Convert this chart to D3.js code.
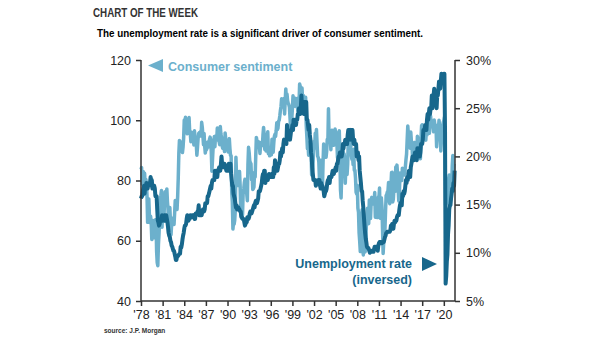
<html>
<head>
<script src="https://d3js.org/d3.v7.min.js"></script>
<style>
  body { margin: 0; background: #fff; }
  text { font-family: "Liberation Sans", Arial, sans-serif; }
</style>
</head>
<body>
<svg id="svg" width="605" height="341"></svg>
<script>
// monthly values, Jan 1978 onwards
var startYear = 1978;

// consumer sentiment index (left axis)
var sentiment = [
  83.7, 84.3, 78.8, 81.6, 82.9, 80.0, 82.4, 78.4, 80.4, 79.3, 75.0, 66.1,   // 1978
  72.1, 73.9, 68.4, 66.0, 68.1, 65.8, 60.4, 64.5, 66.7, 62.1, 63.3, 61.0,   // 1979
  67.0, 66.9, 56.5, 52.7, 51.7, 58.7, 62.3, 67.3, 73.7, 75.0, 76.7, 64.5,   // 1980
  71.4, 66.9, 66.5, 72.4, 76.3, 73.1, 74.1, 77.2, 73.1, 70.3, 62.5, 64.3,   // 1981
  71.0, 66.5, 62.0, 65.5, 67.5, 65.7, 65.4, 65.4, 69.3, 73.4, 72.1, 71.9,   // 1982
  70.4, 74.6, 80.8, 89.1, 93.3, 92.2, 92.8, 90.9, 89.9, 89.3, 91.1, 94.2,   // 1983
  100.1, 97.4, 101.0, 96.1, 98.1, 95.5, 96.6, 99.1, 100.9, 96.3, 95.7, 92.9, // 1984
  96.0, 93.7, 93.7, 94.6, 91.8, 96.5, 94.0, 92.4, 92.1, 88.4, 90.9, 93.9,   // 1985
  95.6, 95.9, 95.1, 96.2, 94.8, 99.3, 97.7, 94.9, 91.9, 95.6, 91.4, 89.1,   // 1986
  90.4, 90.2, 90.8, 92.8, 91.1, 91.5, 93.7, 94.4, 93.6, 89.3, 83.1, 86.8,   // 1987
  90.8, 91.6, 94.6, 91.2, 94.8, 94.7, 93.4, 97.4, 97.3, 94.1, 93.0, 91.9,   // 1988
  97.9, 95.4, 94.3, 91.5, 90.7, 90.6, 92.0, 89.6, 95.8, 93.9, 90.9, 90.5,   // 1989
  93.0, 89.5, 91.3, 93.9, 90.6, 88.3, 88.2, 76.4, 72.8, 63.9, 66.0, 65.5,   // 1990
  66.8, 70.4, 87.7, 81.8, 78.3, 82.1, 82.9, 82.0, 83.0, 78.3, 69.1, 68.2,   // 1991
  67.5, 68.8, 76.0, 77.2, 79.2, 80.4, 76.6, 76.1, 75.6, 73.3, 85.3, 91.0,   // 1992
  89.3, 86.6, 85.9, 85.6, 80.3, 81.5, 77.0, 77.3, 77.9, 82.7, 81.2, 88.2,   // 1993
  94.3, 93.2, 91.5, 92.6, 92.8, 91.2, 89.0, 91.7, 91.5, 92.7, 91.6, 95.1,   // 1994
  97.6, 95.1, 90.3, 92.5, 89.8, 92.7, 94.4, 96.2, 88.9, 90.2, 88.2, 91.0,   // 1995
  89.3, 88.5, 93.7, 92.7, 89.4, 92.4, 94.7, 95.3, 94.7, 96.5, 99.2, 96.9,   // 1996
  97.4, 99.7, 100.0, 101.4, 103.2, 104.5, 107.1, 104.4, 106.0, 105.6, 107.2, 102.1, // 1997
  106.6, 110.4, 106.5, 108.7, 106.5, 105.6, 105.2, 104.4, 100.9, 97.4, 102.7, 100.5, // 1998
  103.9, 108.1, 105.7, 104.6, 106.8, 107.3, 106.0, 104.5, 107.2, 103.2, 107.2, 105.4, // 1999
  112.0, 111.3, 107.1, 109.2, 110.7, 106.4, 108.3, 107.3, 106.8, 105.8, 107.6, 98.4,  // 2000
  94.7, 90.6, 91.5, 88.4, 92.0, 92.6, 92.4, 91.5, 81.8, 82.7, 83.9, 88.8,   // 2001
  93.0, 90.7, 95.7, 93.0, 96.9, 92.4, 88.1, 87.6, 86.1, 80.6, 84.2, 86.7,   // 2002
  82.4, 79.9, 77.6, 86.0, 92.1, 89.7, 90.9, 89.3, 87.7, 89.6, 93.7, 92.6,   // 2003
  103.8, 94.4, 95.8, 94.2, 90.2, 95.6, 96.7, 95.9, 94.2, 91.7, 92.8, 97.1,  // 2004
  95.5, 94.1, 92.6, 87.7, 86.9, 96.0, 96.5, 89.1, 76.9, 74.2, 81.6, 91.5,   // 2005
  91.2, 86.7, 88.9, 87.4, 79.1, 84.9, 84.7, 82.0, 85.4, 93.6, 92.1, 91.7,   // 2006
  96.9, 91.3, 88.4, 87.1, 88.3, 85.3, 90.4, 83.4, 83.4, 80.9, 76.1, 75.5,   // 2007
  78.4, 70.8, 69.5, 62.6, 59.8, 56.4, 61.2, 63.0, 70.3, 57.6, 55.3, 60.1,   // 2008
  61.2, 56.3, 57.3, 65.1, 68.7, 70.8, 66.0, 65.7, 73.5, 70.6, 67.4, 72.5,   // 2009
  74.4, 73.6, 73.6, 72.2, 73.6, 76.0, 67.8, 68.9, 68.2, 67.7, 71.6, 74.5,   // 2010
  74.2, 77.5, 67.5, 69.8, 74.3, 71.5, 63.7, 55.8, 59.5, 60.8, 63.7, 69.9,   // 2011
  75.0, 75.3, 76.2, 76.4, 79.3, 73.2, 72.3, 74.3, 78.3, 82.6, 82.7, 72.9,   // 2012
  73.8, 77.6, 78.6, 76.4, 84.5, 84.1, 85.1, 82.1, 77.5, 73.2, 75.1, 82.5,   // 2013
  81.2, 81.6, 80.0, 84.1, 81.9, 82.5, 81.8, 82.5, 84.6, 86.9, 88.8, 93.6,   // 2014
  98.1, 95.4, 93.0, 95.9, 90.7, 96.1, 93.1, 91.9, 87.2, 90.0, 91.3, 92.6,   // 2015
  92.0, 91.7, 91.0, 89.0, 94.7, 93.5, 90.0, 89.8, 91.2, 87.2, 93.8, 98.2,   // 2016
  98.5, 96.3, 96.9, 97.0, 97.1, 95.0, 93.4, 96.8, 95.1, 100.7, 98.5, 95.9,  // 2017
  95.7, 99.7, 101.4, 98.8, 98.0, 98.2, 97.9, 96.2, 100.1, 98.6, 97.5, 98.3, // 2018
  91.2, 93.8, 98.4, 97.2, 100.0, 98.2, 98.4, 89.8, 93.2, 95.5, 96.8, 99.3,  // 2019
  99.8, 101.0, 89.1, 71.8, 72.3, 78.1, 72.5, 74.1, 80.4, 81.8, 76.9, 80.7,  // 2020
  79.0, 76.8, 84.9, 88.3, 82.9, 85.5                                         // 2021
];

// unemployment rate, % (right axis shows it inversed: 1 / rate)
var unemployment = [
  6.4, 6.3, 6.3, 6.1, 6.0, 5.9, 6.2, 5.9, 6.0, 5.8, 5.9, 6.0,   // 1978
  5.9, 5.9, 5.8, 5.8, 5.6, 5.7, 5.7, 6.0, 5.9, 6.0, 5.9, 6.0,   // 1979
  6.3, 6.3, 6.3, 6.9, 7.5, 7.6, 7.8, 7.7, 7.5, 7.5, 7.5, 7.2,   // 1980
  7.5, 7.4, 7.4, 7.2, 7.5, 7.5, 7.2, 7.4, 7.6, 7.9, 8.3, 8.5,   // 1981
  8.6, 8.9, 9.0, 9.3, 9.4, 9.6, 9.8, 9.8, 10.1, 10.4, 10.8, 10.8, // 1982
  10.4, 10.4, 10.3, 10.2, 10.1, 10.1, 9.4, 9.5, 9.2, 8.8, 8.5, 8.3, // 1983
  8.0, 7.8, 7.8, 7.7, 7.4, 7.2, 7.5, 7.5, 7.3, 7.4, 7.2, 7.3,   // 1984
  7.3, 7.2, 7.2, 7.3, 7.2, 7.4, 7.4, 7.1, 7.1, 7.1, 7.0, 7.0,   // 1985
  6.7, 7.2, 7.2, 7.1, 7.2, 7.2, 7.0, 6.9, 7.0, 7.0, 6.9, 6.6,   // 1986
  6.6, 6.6, 6.6, 6.3, 6.3, 6.2, 6.1, 6.0, 5.9, 6.0, 5.8, 5.7,   // 1987
  5.7, 5.7, 5.7, 5.4, 5.6, 5.4, 5.4, 5.6, 5.4, 5.4, 5.3, 5.3,   // 1988
  5.4, 5.2, 5.0, 5.2, 5.2, 5.3, 5.2, 5.2, 5.3, 5.3, 5.4, 5.4,   // 1989
  5.4, 5.3, 5.2, 5.4, 5.4, 5.2, 5.5, 5.7, 5.9, 5.9, 6.2, 6.3,   // 1990
  6.4, 6.6, 6.8, 6.7, 6.9, 6.9, 6.8, 6.9, 6.9, 7.0, 7.0, 7.3,   // 1991
  7.3, 7.4, 7.4, 7.4, 7.6, 7.8, 7.7, 7.6, 7.6, 7.3, 7.4, 7.4,   // 1992
  7.3, 7.1, 7.0, 7.1, 7.1, 7.0, 6.9, 6.8, 6.7, 6.8, 6.6, 6.5,   // 1993
  6.6, 6.6, 6.5, 6.4, 6.1, 6.1, 6.1, 6.0, 5.9, 5.8, 5.6, 5.5,   // 1994
  5.6, 5.4, 5.4, 5.8, 5.6, 5.6, 5.7, 5.7, 5.6, 5.5, 5.6, 5.6,   // 1995
  5.6, 5.5, 5.5, 5.6, 5.6, 5.3, 5.5, 5.1, 5.2, 5.2, 5.4, 5.4,   // 1996
  5.3, 5.2, 5.2, 5.1, 4.9, 5.0, 4.9, 4.8, 4.9, 4.7, 4.6, 4.7,   // 1997
  4.6, 4.6, 4.7, 4.3, 4.4, 4.5, 4.5, 4.5, 4.6, 4.5, 4.4, 4.4,   // 1998
  4.3, 4.4, 4.2, 4.3, 4.2, 4.3, 4.3, 4.2, 4.2, 4.1, 4.1, 4.0,   // 1999
  4.0, 4.1, 4.0, 3.8, 4.0, 4.0, 4.0, 4.1, 3.9, 3.9, 3.9, 3.9,   // 2000
  4.2, 4.2, 4.3, 4.4, 4.3, 4.5, 4.6, 4.9, 5.0, 5.3, 5.5, 5.7,   // 2001
  5.7, 5.7, 5.7, 5.9, 5.8, 5.8, 5.8, 5.7, 5.7, 5.7, 5.9, 6.0,   // 2002
  5.8, 5.9, 5.9, 6.0, 6.1, 6.3, 6.2, 6.1, 6.1, 6.0, 5.8, 5.7,   // 2003
  5.7, 5.6, 5.8, 5.6, 5.6, 5.6, 5.5, 5.4, 5.4, 5.5, 5.4, 5.4,   // 2004
  5.3, 5.4, 5.2, 5.2, 5.1, 5.0, 5.0, 4.9, 5.0, 5.0, 5.0, 4.9,   // 2005
  4.7, 4.8, 4.7, 4.7, 4.6, 4.6, 4.7, 4.7, 4.5, 4.4, 4.5, 4.4,   // 2006
  4.6, 4.5, 4.4, 4.5, 4.4, 4.6, 4.7, 4.6, 4.7, 4.7, 4.7, 5.0,   // 2007
  5.0, 4.9, 5.1, 5.0, 5.4, 5.6, 5.8, 6.1, 6.1, 6.5, 6.8, 7.3,   // 2008
  7.8, 8.3, 8.7, 9.0, 9.4, 9.5, 9.5, 9.6, 9.8, 10.0, 9.9, 9.9,  // 2009
  9.8, 9.8, 9.9, 9.9, 9.6, 9.4, 9.4, 9.5, 9.5, 9.4, 9.8, 9.3,   // 2010
  9.1, 9.0, 9.0, 9.1, 9.0, 9.1, 9.0, 9.0, 9.0, 8.8, 8.6, 8.5,   // 2011
  8.3, 8.3, 8.2, 8.2, 8.2, 8.2, 8.2, 8.1, 7.8, 7.8, 7.7, 7.9,   // 2012
  8.0, 7.7, 7.5, 7.6, 7.5, 7.5, 7.3, 7.2, 7.2, 7.2, 6.9, 6.7,   // 2013
  6.6, 6.7, 6.7, 6.2, 6.3, 6.1, 6.2, 6.1, 5.9, 5.7, 5.8, 5.6,   // 2014
  5.7, 5.5, 5.4, 5.4, 5.6, 5.3, 5.2, 5.1, 5.0, 5.0, 5.1, 5.0,   // 2015
  4.9, 4.9, 5.0, 5.1, 4.8, 4.9, 4.8, 4.9, 5.0, 4.9, 4.7, 4.7,   // 2016
  4.7, 4.6, 4.4, 4.4, 4.4, 4.3, 4.3, 4.4, 4.2, 4.1, 4.2, 4.1,   // 2017
  4.0, 4.1, 4.0, 4.0, 3.8, 4.0, 3.8, 3.8, 3.7, 3.8, 3.8, 3.9,   // 2018
  4.0, 3.8, 3.8, 3.7, 3.6, 3.6, 3.7, 3.6, 3.5, 3.6, 3.6, 3.6,   // 2019
  3.5, 3.5, 4.4, 14.7, 13.2, 11.0, 10.2, 8.4, 7.8, 6.9, 6.7, 6.7, // 2020
  6.4, 6.2, 6.0, 6.1, 5.8, 5.9, 5.4                              // 2021
];

var leftTicks = [40, 60, 80, 100, 120];
var rightTicks = [5, 10, 15, 20, 25, 30];
var xTickYears = d3.range(1978, 2021, 3);
var xTickLabels = ["'78","'81","'84","'87","'90","'93","'96","'99","'02","'05","'08","'11","'14","'17","'20"];

var lightBlue = "#6cb0cc";
var darkBlue = "#17678c";
var axisColor = "#333";

var svg = d3.select("svg");
var plot = {left: 141, right: 455, top: 60, bottom: 301};

var x = d3.scaleLinear().domain([1978, 2021.55]).range([plot.left, plot.right]);
var yLeft = d3.scaleLinear().domain([40, 120]).range([plot.bottom, plot.top]);
var yRight = d3.scaleLinear().domain([5, 30]).range([plot.bottom, plot.top]);

function monthYear(i) { return startYear + i / 12; }

// titles
svg.append("text").attr("x", 93).attr("y", 17)
   .attr("font-family", "'DejaVu Sans Condensed', 'DejaVu Sans', sans-serif")
   .attr("font-weight", "bold").attr("font-size", 12.5).attr("fill", "#333")
   .attr("textLength", 105).attr("lengthAdjust", "spacingAndGlyphs")
   .text("CHART OF THE WEEK");
svg.append("text").attr("x", 97).attr("y", 37)
   .attr("font-weight", "bold").attr("font-size", 11.5).attr("fill", "#000")
   .attr("textLength", 326).attr("lengthAdjust", "spacingAndGlyphs")
   .text("The unemployment rate is a significant driver of consumer sentiment.");

// lines
var sentLine = d3.line()
  .x(function(d, i) { return x(monthYear(i)); })
  .y(function(d) { return yLeft(d); });
var unempLine = d3.line()
  .x(function(d, i) { return x(monthYear(i)); })
  .y(function(d) { return yRight(100 / d); });

svg.append("path").datum(sentiment)
   .attr("d", sentLine).attr("fill", "none")
   .attr("stroke", lightBlue).attr("stroke-width", 3.5)
   .attr("stroke-linejoin", "round");
svg.append("path").datum(unemployment)
   .attr("d", unempLine).attr("fill", "none")
   .attr("stroke", darkBlue).attr("stroke-width", 4)
   .attr("stroke-linejoin", "round");

// axes
var axL = svg.append("g").attr("transform", "translate(" + plot.left + ",0)")
  .call(d3.axisLeft(yLeft).tickValues(leftTicks).tickSize(5).tickPadding(5));
var axR = svg.append("g").attr("transform", "translate(" + plot.right + ",0)")
  .call(d3.axisRight(yRight).tickValues(rightTicks).tickSize(5).tickPadding(6)
        .tickFormat(function(d) { return d + "%"; }));
var axB = svg.append("g").attr("transform", "translate(0," + plot.bottom + ")")
  .call(d3.axisBottom(x).tickValues(xTickYears).tickSize(5).tickPadding(4)
        .tickFormat(function(d, i) { return xTickLabels[i]; }));

[axL, axR, axB].forEach(function(g) {
  g.select(".domain").attr("stroke", axisColor).attr("stroke-width", 1.5);
  g.selectAll(".tick line").attr("stroke", axisColor).attr("stroke-width", 1.5);
  g.selectAll(".tick text").attr("font-family", "'Liberation Sans', Arial, sans-serif")
   .attr("font-size", 12.5).attr("fill", "#222");
});
axL.select(".domain").attr("d", "M0," + plot.top + "V" + plot.bottom);
axR.select(".domain").attr("d", "M0," + plot.top + "V" + plot.bottom);
axB.select(".domain").attr("d", "M" + plot.left + ",0H" + plot.right);

// series labels
svg.append("path").attr("d", "M148,65.5L163,59L163,72Z").attr("fill", lightBlue);
svg.append("text").attr("x", 168).attr("y", 71)
   .attr("font-weight", "bold").attr("font-size", 12.5).attr("fill", lightBlue)
   .text("Consumer sentiment");

svg.append("path").attr("d", "M422,257L422,271L437,264Z").attr("fill", darkBlue);
svg.append("text").attr("x", 412).attr("y", 268).attr("text-anchor", "end")
   .attr("font-weight", "bold").attr("font-size", 12.5).attr("fill", darkBlue)
   .text("Unemployment rate");
svg.append("text").attr("x", 412).attr("y", 284).attr("text-anchor", "end")
   .attr("font-weight", "bold").attr("font-size", 12.5).attr("fill", darkBlue)
   .text("(inversed)");

// source
svg.append("text").attr("x", 104).attr("y", 333)
   .attr("font-family", "'DejaVu Sans Condensed', 'DejaVu Sans', sans-serif")
   .attr("font-weight", "bold").attr("font-size", 6.5).attr("fill", "#333")
   .text("source: J.P. Morgan");
</script>
</body>
</html>
